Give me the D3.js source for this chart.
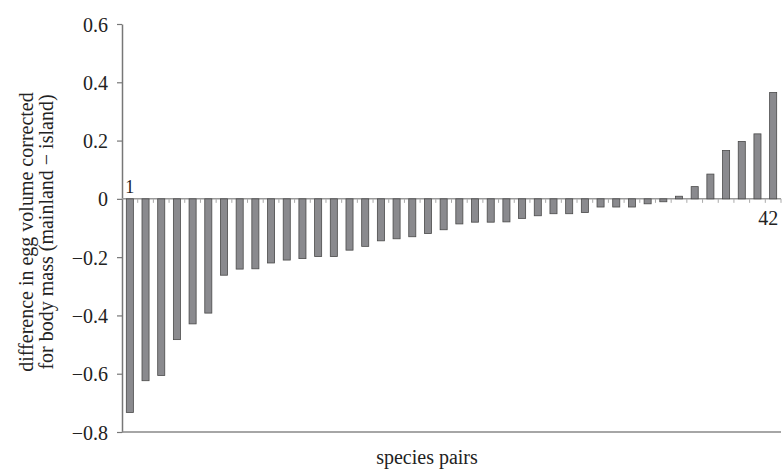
<!DOCTYPE html>
<html lang="en">
<head>
<meta charset="utf-8">
<style>
  body { margin: 0; background: #fff; }
  svg text { font-family: "Liberation Serif", "Times New Roman", Times, "DejaVu Serif", serif; fill: #222; }
  .bar { fill: #8a8a8e; stroke: #4a4a4a; stroke-width: 0.8; }
  .domain, .tick line { stroke: #777; }
</style>
<script src="https://cdn.jsdelivr.net/npm/d3@7"></script>
</head>
<body>
<svg width="783" height="469"></svg>
<script>
var pairs = d3.range(1, 43);
var diffs = [
  -0.733, -0.624, -0.606, -0.483, -0.429, -0.392, -0.262, -0.241, -0.240, -0.220,
  -0.210, -0.205, -0.198, -0.198, -0.176, -0.163, -0.144, -0.137, -0.130, -0.119,
  -0.106, -0.086, -0.080, -0.080, -0.079, -0.067, -0.058, -0.051, -0.051, -0.047,
  -0.028, -0.028, -0.028, -0.017, -0.010, 0.009, 0.042, 0.085, 0.166, 0.197,
  0.223, 0.365
];
var yTicks = [-0.8, -0.6, -0.4, -0.2, 0, 0.2, 0.4, 0.6];

var serif = "'Liberation Serif', 'Times New Roman', Times, 'DejaVu Serif', serif";

var svg = d3.select("svg"),
    plotLeft = 122, plotRight = 781, plotTop = 24, plotBottom = 432;

var x = d3.scaleBand()
    .domain(pairs)
    .range([plotLeft, plotRight])
    .paddingInner(0.55)
    .paddingOuter(0.275);

var y = d3.scaleLinear()
    .domain([-0.8, 0.6])
    .range([plotBottom, plotTop]);

function fmt(d) {
  return d === 0 ? "0" : d3.format(".1f")(d).replace("-", "\u2212").replace("\u2212", "\u2212");
}

// y axis
var yAxis = svg.append("g")
    .attr("transform", "translate(" + plotLeft + ",0)")
    .attr("font-family", serif)
    .call(d3.axisLeft(y).tickValues(yTicks).tickFormat(fmt).tickSize(5).tickSizeOuter(0));
yAxis.attr("font-family", serif).attr("font-size", 20);
yAxis.select(".domain").attr("stroke-width", 1.5);
yAxis.selectAll(".tick line").attr("stroke-width", 1.2);
yAxis.selectAll("text")
    .attr("x", -14)
    .attr("dy", "0.35em")
    .style("font-size", "20px")
    .style("font-family", serif)
    .attr("fill", "#222");

// bottom line
svg.append("line")
    .attr("x1", plotLeft).attr("x2", plotRight)
    .attr("y1", y(-0.8)).attr("y2", y(-0.8))
    .attr("stroke", "#888").attr("stroke-width", 1.5);

// zero line
svg.append("line")
    .attr("x1", plotLeft).attr("x2", plotRight)
    .attr("y1", y(0)).attr("y2", y(0))
    .attr("stroke", "#999").attr("stroke-width", 1.5);

// small ticks between pairs on the zero line
svg.append("g").selectAll("line")
    .data(pairs)
    .enter().append("line")
    .attr("x1", function(d) { return x(d) + x.bandwidth() + x.step() * 0.275; })
    .attr("x2", function(d) { return x(d) + x.bandwidth() + x.step() * 0.275; })
    .attr("y1", y(0)).attr("y2", y(0) + 4)
    .attr("stroke", "#aaa").attr("stroke-width", 1);

// bars
svg.append("g").selectAll("rect")
    .data(diffs)
    .enter().append("rect")
    .attr("class", "bar")
    .attr("x", function(d, i) { return x(pairs[i]); })
    .attr("width", x.bandwidth())
    .attr("y", function(d) { return y(Math.max(0, d)); })
    .attr("height", function(d) { return Math.abs(y(d) - y(0)); });

// end labels
svg.append("text")
    .attr("x", x(1) + x.bandwidth() / 2)
    .attr("y", y(0) - 6)
    .attr("text-anchor", "middle")
    .style("font-family", serif)
    .style("font-size", "18px")
    .text("1");
svg.append("text")
    .attr("x", x(42) + x.bandwidth() / 2 - 5)
    .attr("y", y(0) + 26)
    .attr("text-anchor", "middle")
    .style("font-family", serif)
    .style("font-size", "20px")
    .text("42");

// axis titles
svg.append("text")
    .attr("transform", "translate(33,232) rotate(-90)")
    .attr("text-anchor", "middle")
    .style("font-family", serif)
    .style("font-size", "20px")
    .text("difference in egg volume corrected");
svg.append("text")
    .attr("transform", "translate(53,232) rotate(-90)")
    .attr("text-anchor", "middle")
    .style("font-family", serif)
    .style("font-size", "20px")
    .text("for body mass (mainland \u2212 island)");
svg.append("text")
    .attr("x", 427)
    .attr("y", 464)
    .attr("text-anchor", "middle")
    .style("font-family", serif)
    .style("font-size", "20px")
    .text("species pairs");
</script>
</body>
</html>
